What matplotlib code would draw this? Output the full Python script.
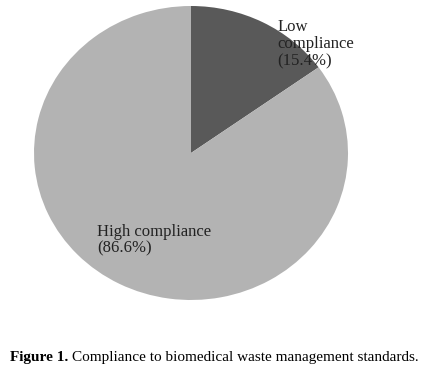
import matplotlib
matplotlib.use("Agg")
import matplotlib.pyplot as plt

# data
categories = ["Low compliance", "High compliance"]
values = [15.4, 86.6]
colors = ["#595959", "#b3b3b3"]

plt.rcParams['font.family'] = ['Liberation Serif', 'DejaVu Serif']

W, H = 426, 365
fig = plt.figure(figsize=(W / 100, H / 100), dpi=100)
fig.patch.set_facecolor("white")

# pie area in pixels: left 34, right 348, top 6, bottom 300
ax = fig.add_axes([34 / W, (H - 300) / H, 314 / W, 294 / H])
ax.pie(values, colors=colors, startangle=90, counterclock=False,
       wedgeprops=dict(linewidth=0))
ax.set_aspect('auto')
ax.set_xlim(-1, 1)
ax.set_ylim(-1, 1)
ax.axis('off')

# slice labels
ax.text(0.55, 0.91, "Low\ncompliance\n({:.1f}%)".format(values[0]),
        ha='left', va='top', fontsize=12, color='#222222', linespacing=1.1)
ax.text(-0.60, -0.48, "High compliance\n({:.1f}%)".format(values[1]),
        ha='left', va='top', fontsize=12, color='#222222', linespacing=1.1)

# caption: bold prefix + normal text
t1 = fig.text(10 / W, 1 - 361 / H, "Figure 1.", fontsize=11, fontweight='bold',
              ha='left', va='baseline')
fig.canvas.draw()
bb = t1.get_window_extent()
fig.text((bb.x1 + 4) / W, 1 - 361 / H,
         "Compliance to biomedical waste management standards.",
         fontsize=11, ha='left', va='baseline')

fig.savefig("out.png", dpi=100)
